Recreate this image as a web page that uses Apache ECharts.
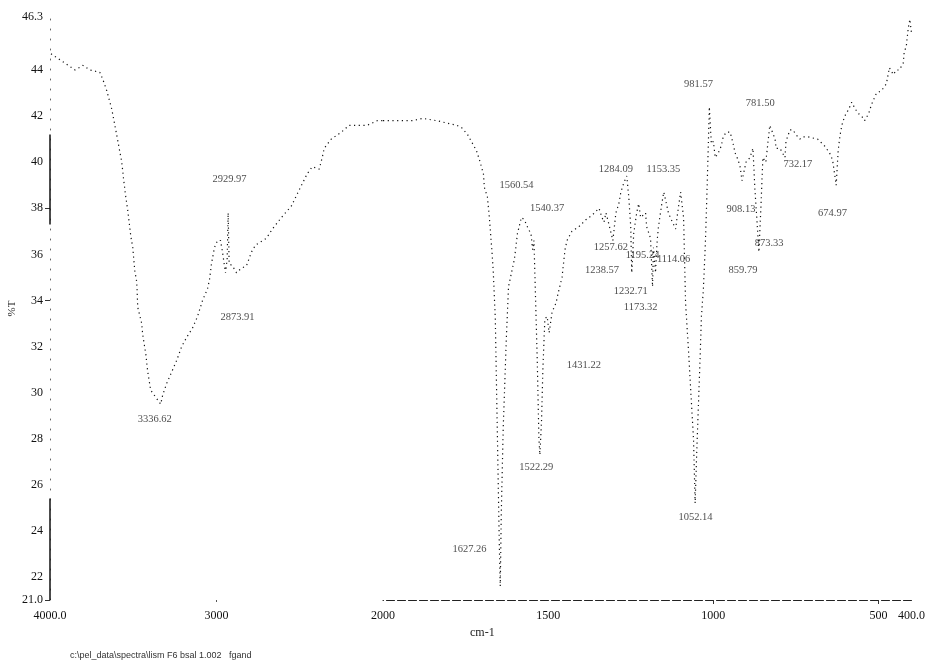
<!DOCTYPE html>
<html><head><meta charset="utf-8">
<script src="https://cdn.jsdelivr.net/npm/echarts@6/dist/echarts.min.js"></script>
<style>html,body{margin:0;padding:0;background:#fff}#c{width:928px;height:662px}</style>
</head><body><div id="c"></div>
<script>
// 4000-2000 cm-1 part (compressed scale)
const wnHigh = [3994,3910,3850,3802,3760,3701,3683,3659,3629,3605,3587,3569,3557,3545,3533,3515,3503,3491,3479,3473,3449,3443,3425,3413,3395,3335,3323,3299,3269,3239,3209,3179,3144,3114,3084,3054,3042,3030,3012,2994,2976,2964,2946,2936,2930,2924,2904,2880,2850,2820,2790,2766,2700,2664,2610,2550,2503,2455,2425,2383,2365,2353,2311,2251,2203,2161,2095,2035,2000];
const tHigh  = [44.7,44.3,44.0,44.2,44.0,43.9,43.6,43.1,42.3,41.4,40.7,40.0,39.2,38.5,37.9,36.8,36.3,35.3,34.8,33.7,33.0,32.5,31.7,30.9,30.1,29.5,29.9,30.4,30.9,31.4,32.0,32.4,32.8,33.3,34.0,34.5,34.9,35.6,36.3,36.6,36.6,36.1,35.2,35.8,37.8,35.6,35.5,35.2,35.4,35.5,36.1,36.4,36.7,37.1,37.6,38.1,38.8,39.5,39.8,39.7,40.2,40.6,41.0,41.3,41.6,41.6,41.6,41.8,41.8];
// 2000-400 cm-1 part
const wnLow = [2000,1910,1880,1837,1807,1777,1762,1744,1717,1708,1696,1693,1684,1678,1669,1666,1660,1654,1648,1645,1642,1636,1633,1627,1620,1608,1602,1593,1581,1572,1560,1552,1547,1543,1538,1533,1528,1525,1520,1516,1510,1503,1497,1488,1476,1470,1458,1449,1443,1428,1407,1386,1367,1346,1337,1331,1325,1316,1304,1295,1286,1280,1271,1262,1256,1250,1247,1241,1232,1226,1220,1205,1202,1190,1184,1181,1175,1170,1166,1157,1150,1142,1136,1127,1114,1108,1099,1090,1084,1075,1066,1060,1055,1050,1045,1040,1036,1030,1024,1020,1016,1012,1006,1000,994,985,976,970,961,949,940,934,925,919,913,901,889,880,874,868,862,856,850,841,829,813,810,798,783,780,768,759,750,738,729,714,684,663,648,639,633,628,622,617,611,602,590,581,570,560,551,542,530,521,506,491,476,467,455,446,437,425,422,416,410,405,400];
const tLow  = [41.8,41.8,41.9,41.8,41.7,41.6,41.5,41.2,40.5,40.1,39.5,38.9,38.5,37.6,35.9,35.2,33.2,28.4,23.5,21.6,24.7,28.5,29.7,32.2,34.6,35.4,35.8,36.9,37.6,37.5,37.1,36.9,36.2,36.6,34.0,31.4,28.0,27.3,28.8,31.0,33.2,33.3,32.6,33.5,33.9,34.3,35.0,36.2,36.6,37.0,37.2,37.5,37.7,38.0,37.6,37.4,37.8,37.3,36.6,37.8,38.2,38.7,39.1,39.4,38.5,37.2,35.2,36.9,37.8,38.2,37.6,37.8,37.2,36.7,34.6,36.3,35.2,36.6,37.2,38.1,38.7,38.2,37.8,37.5,37.1,37.8,38.7,37.6,33.9,31.8,29.5,28.0,25.2,27.5,29.5,31.5,33.3,34.5,36.5,38.3,40.3,42.4,40.8,40.9,40.2,40.4,40.7,41.1,41.3,41.3,40.8,40.4,40.1,39.8,39.2,40.0,40.2,40.6,38.8,37.5,36.1,38.0,40.2,40.0,41.6,41.0,40.6,40.6,40.2,40.9,41.4,41.4,41.2,41.0,41.1,41.1,41.0,40.7,40.4,40.1,39.5,39.0,40.5,41.1,41.6,42.0,42.3,42.6,42.3,42.1,42.0,41.8,42.1,42.5,43.0,43.1,43.4,44.1,43.8,44.0,44.0,44.3,44.8,45.0,45.8,46.2,45.6];
// tick labels
const yTickValues = [21,22,24,26,28,30,32,34,36,38,40,42,44,46.3];
const xTicksHigh = [4000,3000,2000];
const xTicksLow = [1500,1000,500,400];
// peak annotations: text and the point where each label sits
const peakText = ["3336.62","2929.97","2873.91","1627.26","1560.54","1540.37","1522.29","1431.22","1284.09","1257.62","1238.57","1195.24","1114.06","1232.71","1173.32","1153.35","1052.14","981.57","781.50","732.17","908.13","873.33","859.79","674.97"];
const peakWn   = [3371,2922,2874,1738,1596,1503,1536,1392,1295,1310,1337,1214,1120,1250,1220,1151,1054,1045,858,744,916,831,910,639];
const peakT    = [28.85,39.24,33.26,23.2,39.0,38.0,26.76,31.2,39.7,36.3,35.3,35.95,35.8,34.4,33.7,39.7,24.6,43.4,42.57,39.9,37.94,36.5,35.3,37.8];

const hiData = wnHigh.map((w,i)=>[w,tHigh[i]]);
const loData = wnLow.map((w,i)=>[w,tLow[i]]);
const hiPeaks = [], loPeaks = [];
peakText.forEach((t,i)=>{ (peakWn[i] >= 2000 ? hiPeaks : loPeaks).push([peakWn[i], peakT[i], t]); });

const FONT = 'Liberation Serif';
const lineStyle = {color:'#111', width:1.2, type:[1.2,3.5]};
const peakLabel = {show:true, position:'inside', formatter:p=>p.value[2], fontFamily:FONT, fontSize:10.5, color:'#1a1a1a'};
const yMin = 21, yMax = 46.3;

const chart = echarts.init(document.getElementById('c'), null, {renderer:'canvas'});
chart.setOption({
  animation:false,
  backgroundColor:'#fff',
  grid:[
    {left:50, top:17, width:333, height:583},
    {left:383, top:17, width:529, height:583}
  ],
  xAxis:[
    {gridIndex:0, type:'value', min:2000, max:4000, inverse:true, interval:1000,
     splitLine:{show:false}, axisLine:{show:false},
     axisTick:{show:true, customValues:[3000], length:2, lineStyle:{color:'#555'}},
     axisLabel:{customValues:xTicksHigh, margin:10, fontFamily:FONT, fontSize:12, color:'#111',
       formatter:v=> v===4000 ? '4000.0' : String(v)}},
    {gridIndex:1, type:'value', min:400, max:2000, inverse:true, interval:100,
     splitLine:{show:false},
     axisLine:{show:true, lineStyle:{color:'#222', width:1, type:[8,3]}},
     axisTick:{show:true, customValues:[1000,500], length:4, lineStyle:{color:'#333'}},
     axisLabel:{customValues:xTicksLow, margin:10, fontFamily:FONT, fontSize:12, color:'#111',
       formatter:v=> v===400 ? '400.0' : String(v)}}
  ],
  yAxis:[
    {gridIndex:0, type:'value', min:yMin, max:yMax, interval:1,
     name:'%T', nameLocation:'middle', nameGap:24, nameTextStyle:{fontFamily:FONT, fontSize:11, color:'#222'},
     splitLine:{show:false},
     axisLine:{show:true, lineStyle:{color:'#666', width:1, type:[1,9]}},
     axisTick:{show:true, customValues:[21,34,38], length:5, lineStyle:{color:'#333'}},
     axisLabel:{customValues:yTickValues, margin:7, fontFamily:FONT, fontSize:12, color:'#111',
       formatter:v=> v===21 ? '21.0' : (v===46.3 ? '46.3' : String(v))}},
    {gridIndex:1, type:'value', min:yMin, max:yMax, show:false, splitLine:{show:false}}
  ],
  series:[
    {type:'line', xAxisIndex:0, yAxisIndex:0, data:hiData, symbol:'none', lineStyle:lineStyle, silent:true,
     markLine:{silent:true, symbol:'none', label:{show:false}, lineStyle:{color:'#111', width:1.5, type:'solid'},
       data:[[{coord:[4000,41.2]},{coord:[4000,37.3]}],[{coord:[4000,25.4]},{coord:[4000,21]}]]}},
    {type:'line', xAxisIndex:1, yAxisIndex:1, data:loData, symbol:'none', lineStyle:lineStyle, silent:true},
    {type:'scatter', xAxisIndex:0, yAxisIndex:0, data:hiPeaks, symbolSize:0, silent:true, label:peakLabel},
    {type:'scatter', xAxisIndex:1, yAxisIndex:1, data:loPeaks, symbolSize:0, silent:true, label:peakLabel}
  ],
  graphic:[
    {type:'text', left:470, top:627, style:{text:'cm-1', font:'12px "Liberation Serif"', fill:'#222'}},
    {type:'text', left:70, top:651, style:{text:'c:\\pel_data\\spectra\\lism F6 bsal 1.002   fgand', font:'9px "Liberation Sans"', fill:'#333'}}
  ]
});
</script></body></html>
